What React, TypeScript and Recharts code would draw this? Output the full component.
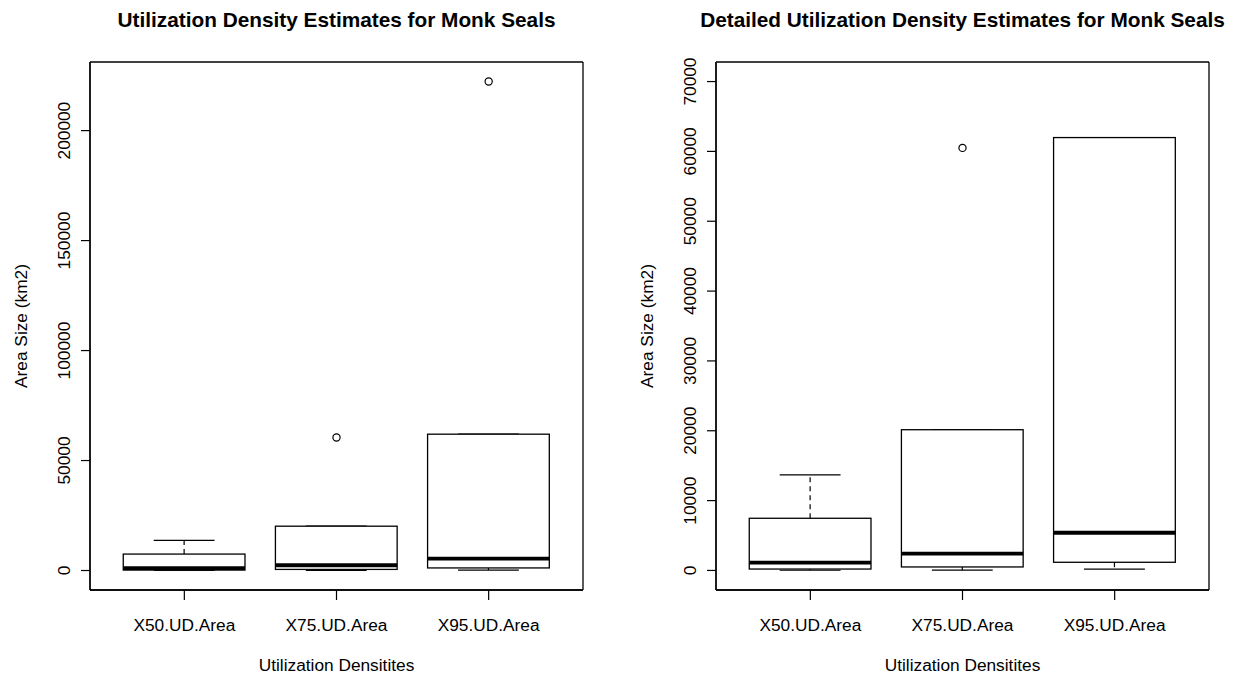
import React from "react";
import { ComposedChart, Bar, Scatter, XAxis, YAxis, Label, CartesianGrid } from "recharts";

// box statistics (km2)
const categories = ["X50.UD.Area", "X75.UD.Area", "X95.UD.Area"];
const whiskerLow = [30, 40, 200];
const lowerQuartile = [200, 500, 1170];
const medians = [1120, 2400, 5400];
const upperQuartile = [7470, 20150, 61980];
const whiskerHigh = [13680, 20150, 61980];

const outlierCategories = ["X75.UD.Area", "X95.UD.Area"];
const outlierValues = [60500, 222300];

const overviewTicks = [0, 50000, 100000, 150000, 200000];
const detailTicks = [0, 10000, 20000, 30000, 40000, 50000, 60000, 70000];
const detailLimit = [0, 70000];

const FONT = "'Liberation Sans', Arial, Helvetica, sans-serif";
const PLOT_W = 493;
const PLOT_H = 528;
const TOP = 62;
const CHART_H = 675;

const boxData = categories.map((name, i) => ({
  name,
  lo: whiskerLow[i],
  q1: lowerQuartile[i],
  med: medians[i],
  q3: upperQuartile[i],
  hi: whiskerHigh[i],
}));

const outlierData = outlierCategories.map((name, i) => ({ name, v: outlierValues[i] }));

// R pads the range by 4% on each side
const extend = (lo: number, hi: number) => {
  const d = (hi - lo) * 0.04;
  return [lo - d, hi + d];
};

const BoxShape = (props: any) => {
  const { x, y, width, height, payload } = props;
  const { lo, hi, q1, med, q3 } = payload;
  const py = (v: number) => y + (height * (hi - v)) / (hi - lo);
  const cx = x + width / 2;
  const cap = width / 4;
  return (
    <g stroke="#000" fill="none">
      <line x1={cx} x2={cx} y1={py(q3)} y2={py(hi)} strokeWidth={1.2} strokeDasharray="5 4" />
      <line x1={cx} x2={cx} y1={py(q1)} y2={py(lo)} strokeWidth={1.2} strokeDasharray="5 4" />
      <line x1={cx - cap} x2={cx + cap} y1={py(hi)} y2={py(hi)} strokeWidth={1.2} />
      <line x1={cx - cap} x2={cx + cap} y1={py(lo)} y2={py(lo)} strokeWidth={1.2} />
      <rect x={x} y={py(q3)} width={width} height={py(q1) - py(q3)} strokeWidth={1.3} fill="#fff" />
      <line x1={x} x2={x + width} y1={py(med)} y2={py(med)} strokeWidth={3.8} />
    </g>
  );
};

const OutlierShape = (props: any) => {
  const { cx, cy } = props;
  return <circle cx={cx} cy={cy} r={3.6} stroke="#000" strokeWidth={1.2} fill="none" />;
};

const YTick = (props: any) => {
  const { x, y, payload } = props;
  return (
    <text
      x={x}
      y={y}
      transform={`rotate(-90, ${x}, ${y})`}
      textAnchor="middle"
      fontSize={17.3}
      fontFamily={FONT}
      fill="#000"
    >
      {payload.value}
    </text>
  );
};

const XTick = (props: any) => {
  const { x, y, payload } = props;
  return (
    <text x={x} y={y} textAnchor="middle" fontSize={17.3} fontFamily={FONT} fill="#000">
      {payload.value}
    </text>
  );
};

interface PanelProps {
  title: string;
  left: number;
  axisWidth: number;
  domain: number[];
  ticks: number[];
}

function Panel({ title, left, axisWidth, domain, ticks }: PanelProps) {
  const pad = (PLOT_W * 0.12) / 3.24;
  const band = (PLOT_W - 2 * pad) / categories.length;
  const width = axisWidth + PLOT_W + 32;
  const points = outlierData.filter((o) => o.v <= domain[1]);

  return (
    <div style={{ position: "absolute", left, top: 0 }}>
      <ComposedChart
        width={width}
        height={CHART_H}
        data={boxData}
        margin={{ top: TOP, right: 32, left: 0, bottom: 0 }}
      >
        {/* plot frame, as R's box() */}
        <CartesianGrid
          stroke="#000"
          strokeWidth={1.3}
          horizontalCoordinatesGenerator={({ offset }: any) => [offset.top, offset.top + offset.height]}
          verticalCoordinatesGenerator={({ offset }: any) => [offset.left, offset.left + offset.width]}
        />
        <XAxis
          dataKey="name"
          type="category"
          allowDuplicatedCategory={false}
          padding={{ left: pad, right: pad }}
          height={CHART_H - TOP - PLOT_H}
          tickSize={10}
          tickMargin={31}
          tick={<XTick />}
          tickLine={{ stroke: "#000", strokeWidth: 1.2 }}
          axisLine={{ stroke: "#000", strokeWidth: 1.3 }}
          interval={0}
        >
          <Label
            content={(p: any) => (
              <text
                x={p.viewBox.x + p.viewBox.width / 2}
                y={p.viewBox.y + 81}
                textAnchor="middle"
                fontSize={17.3}
                fontFamily={FONT}
                fill="#000"
              >
                Utilization Densitites
              </text>
            )}
          />
        </XAxis>
        <YAxis
          type="number"
          width={axisWidth}
          domain={domain}
          allowDataOverflow
          ticks={ticks}
          interval={0}
          tickSize={9}
          tickMargin={11}
          tick={<YTick />}
          tickLine={{ stroke: "#000", strokeWidth: 1.2 }}
          axisLine={{ stroke: "#000", strokeWidth: 1.3 }}
        >
          <Label
            content={(p: any) => {
              const lx = p.viewBox.x + p.viewBox.width - 63;
              const ly = p.viewBox.y + p.viewBox.height / 2;
              return (
                <text
                  x={lx}
                  y={ly}
                  transform={`rotate(-90, ${lx}, ${ly})`}
                  textAnchor="middle"
                  fontSize={17.3}
                  fontFamily={FONT}
                  fill="#000"
                >
                  Area Size (km2)
                </text>
              );
            }}
          />
          <Label
            content={(p: any) => (
              <text
                x={p.viewBox.x + p.viewBox.width + PLOT_W / 2}
                y={p.viewBox.y - 35}
                textAnchor="middle"
                fontSize={20.8}
                fontWeight="bold"
                fontFamily={FONT}
                fill="#000"
              >
                {title}
              </text>
            )}
          />
        </YAxis>
        <Bar
          dataKey={(d: any) => [d.lo, d.hi]}
          barSize={band * 0.8}
          shape={<BoxShape />}
          isAnimationActive={false}
        />
        <Scatter data={points} dataKey="v" shape={<OutlierShape />} isAnimationActive={false} />
      </ComposedChart>
    </div>
  );
}

export default function App() {
  const overviewDomain = extend(Math.min(...whiskerLow), Math.max(...outlierValues));
  const detailDomain = extend(detailLimit[0], detailLimit[1]);
  return (
    <div
      style={{
        position: "fixed",
        left: 0,
        top: 0,
        width: 1241,
        height: 675,
        background: "#fff",
        overflow: "hidden",
      }}
    >
      <Panel
        title="Utilization Density Estimates for Monk Seals"
        left={0}
        axisWidth={90}
        domain={overviewDomain}
        ticks={overviewTicks}
      />
      <Panel
        title="Detailed Utilization Density Estimates for Monk Seals"
        left={620}
        axisWidth={96}
        domain={detailDomain}
        ticks={detailTicks}
      />
    </div>
  );
}
